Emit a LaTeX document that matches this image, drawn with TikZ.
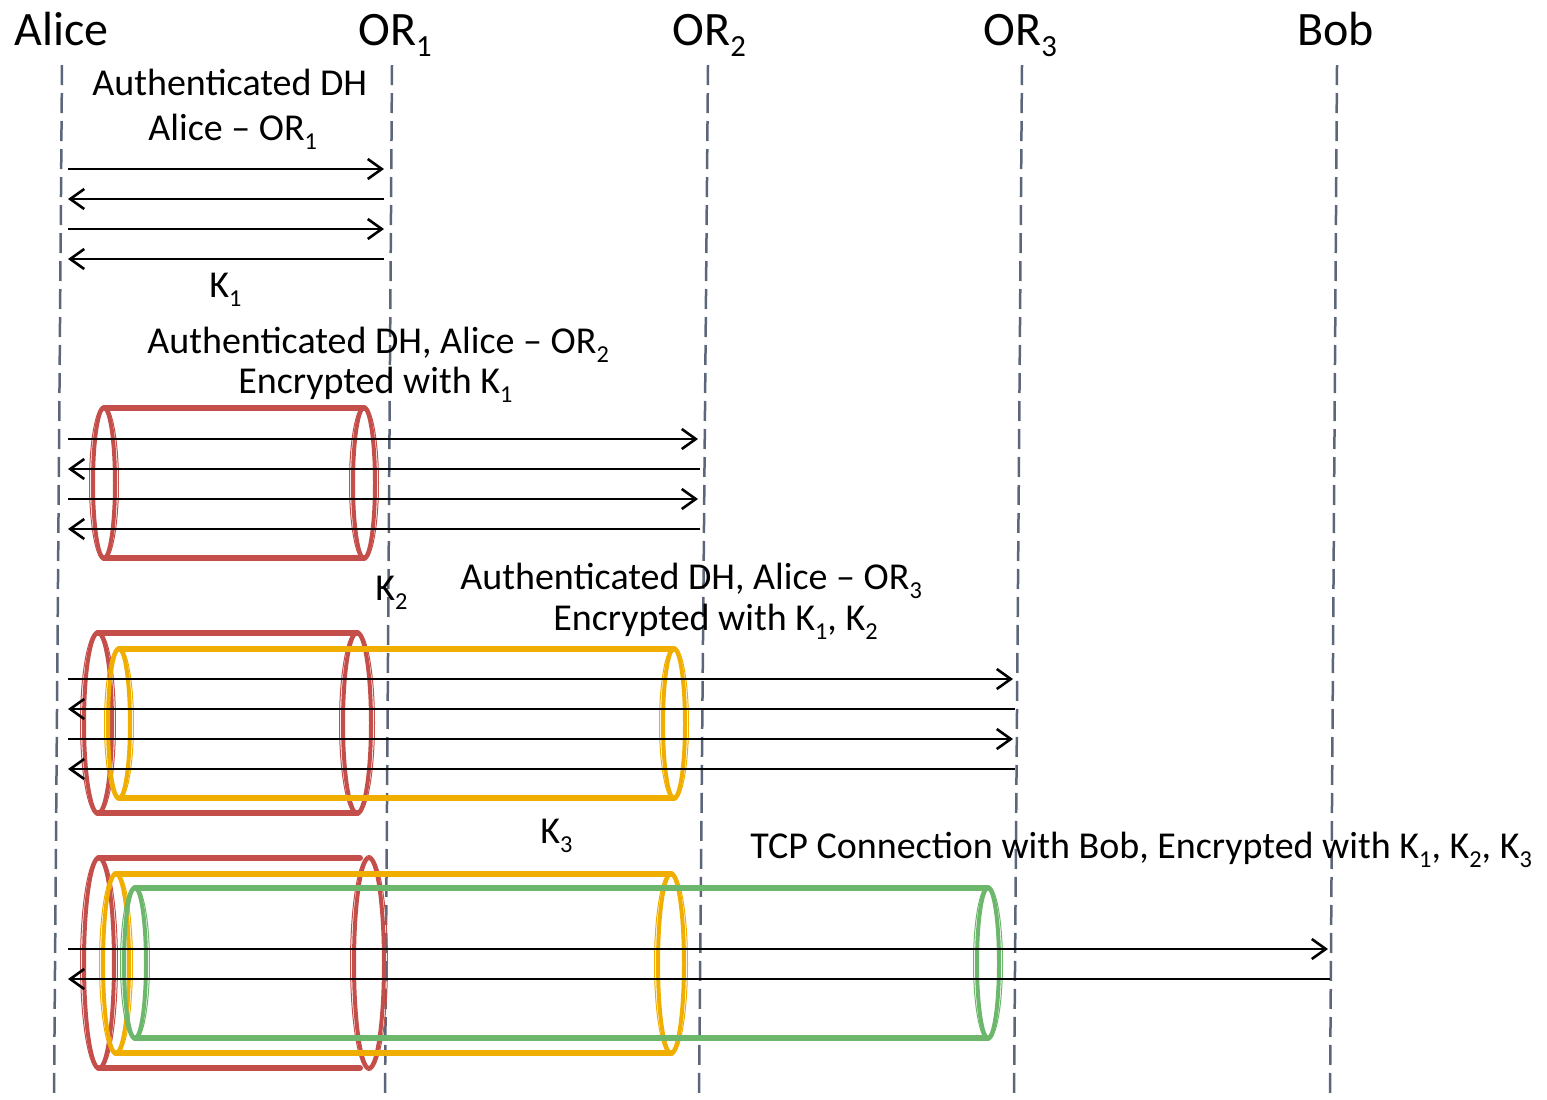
\documentclass[tikz,border=0pt]{standalone}
\usepackage{fontspec}
\setmainfont{Carlito}
\usetikzlibrary{arrows.meta}
\definecolor{lifeline}{RGB}{92,102,122}
\definecolor{keyred}{RGB}{196,78,74}
\definecolor{keygold}{RGB}{240,174,0}
\definecolor{keygreen}{RGB}{108,183,108}
\newcommand\sbs[1]{\raisebox{-0.24em}{\scalebox{0.64}{#1}}}
% tunnel: colour, left x, right x (lines), right x (end ring), top y, bottom y, ring half-width
\newcommand\tunnel[7]{%
  \draw[tube,#1] (#2,#5) -- (#3,#5);
  \draw[tube,#1] (#2,#6) -- (#3,#6);
  \foreach \cx in {#2,#4}{
    \draw[ring,#1] (\cx,{(#5+#6)/2}) ellipse [x radius=#7, y radius={(#6-#5)/2}];
    \draw[ringedge,#1] (\cx,{(#5+#6)/2}) ellipse [x radius=#7+3.5, y radius={(#6-#5)/2+2.5}];
  }}
\begin{document}
\begin{tikzpicture}[x=0.5pt,y=-0.5pt,
  life/.style={draw=lifeline,line width=1.25pt,dash pattern=on 10pt off 4pt},
  msg/.style={draw=black,line width=1.3pt,-{Straight Barb[length=7pt,width=10pt,line width=1.3pt]}},
  head/.style={anchor=base west,inner sep=0pt,font=\fontsize{24}{28}\selectfont},
  lbl/.style={anchor=base west,inner sep=0pt,font=\fontsize{19}{23}\selectfont},
  tube/.style={line width=3pt,line cap=round},
  ring/.style={line width=2pt},
  ringedge/.style={line width=0.5pt}]
\useasboundingbox (0,0) rectangle (1547,1099);

% participants
\node[head] (alice) at (14,45) {Alice};
\node[head] (or1) at (358,45) {OR\sbs{1}};
\node[head] (or2) at (672,45) {OR\sbs{2}};
\node[head] (or3) at (983,45) {OR\sbs{3}};
\node[head] (bob) at (1297,45) {Bob};

% lifelines
\coordinate (aT) at (62,65);   \coordinate (aB) at (54,1099);
\coordinate (r1T) at (392,65); \coordinate (r1B) at (385,1099);
\coordinate (r2T) at (708,65); \coordinate (r2B) at (699,1099);
\coordinate (r3T) at (1022,65);\coordinate (r3B) at (1014,1099);
\coordinate (bT) at (1337,65); \coordinate (bB) at (1330,1099);
\foreach \p in {a,r1,r2,r3,b} \draw[life] (\p T) -- (\p B);

% layer 3 and 4 tunnels
\tunnel{keyred}{98}{357}{357}{633}{813}{14}
\tunnel{keygold}{119}{674}{674}{649}{798}{11}
\tunnel{keyred}{99}{360}{369}{858}{1068}{15}
\tunnel{keygold}{116}{671}{671}{874}{1053}{13}
\tunnel{keygreen}{135}{988}{988}{888}{1038}{11}
% layer 2 tunnel
\tunnel{keyred}{104}{364}{364}{408}{558}{11}

% labels
\node[lbl] (t1a) at (92,95) {Authenticated DH};
\node[lbl] (t1b) at (148,140) {Alice – OR\sbs{1}};
\node[lbl] (k1) at (209,297) {K\sbs{1}};
\node[lbl] (t2a) at (147,353) {Authenticated DH, Alice – OR\sbs{2}};
\node[lbl] (t2b) at (238,393) {Encrypted with K\sbs{1}};
\node[lbl] (k2) at (375,600) {K\sbs{2}};
\node[lbl] (t3a) at (460,589) {Authenticated DH, Alice – OR\sbs{3}};
\node[lbl] (t3b) at (553,630) {Encrypted with K\sbs{1}, K\sbs{2}};
\node[lbl] (k3) at (540,843) {K\sbs{3}};
\node[lbl] (t4) at (750,858) {TCP Connection with Bob, Encrypted with K\sbs{1}, K\sbs{2}, K\sbs{3}};

% messages
\foreach \n/\y/\xe in {a/169/384,b/229/384,c/439/698,d/499/698,e/679/1013,f/739/1013,g/949/1328}{
  \coordinate (s\n) at (68,\y); \coordinate (e\n) at (\xe,\y);
  \draw[msg] (s\n) -- (e\n);}
\foreach \n/\y/\xs in {h/199/384,i/259/384,j/469/700,k/529/700,l/709/1015,m/769/1015,n/979/1330}{
  \coordinate (s\n) at (\xs,\y); \coordinate (e\n) at (68,\y);
  \draw[msg] (s\n) -- (e\n);}
\end{tikzpicture}
\end{document}
